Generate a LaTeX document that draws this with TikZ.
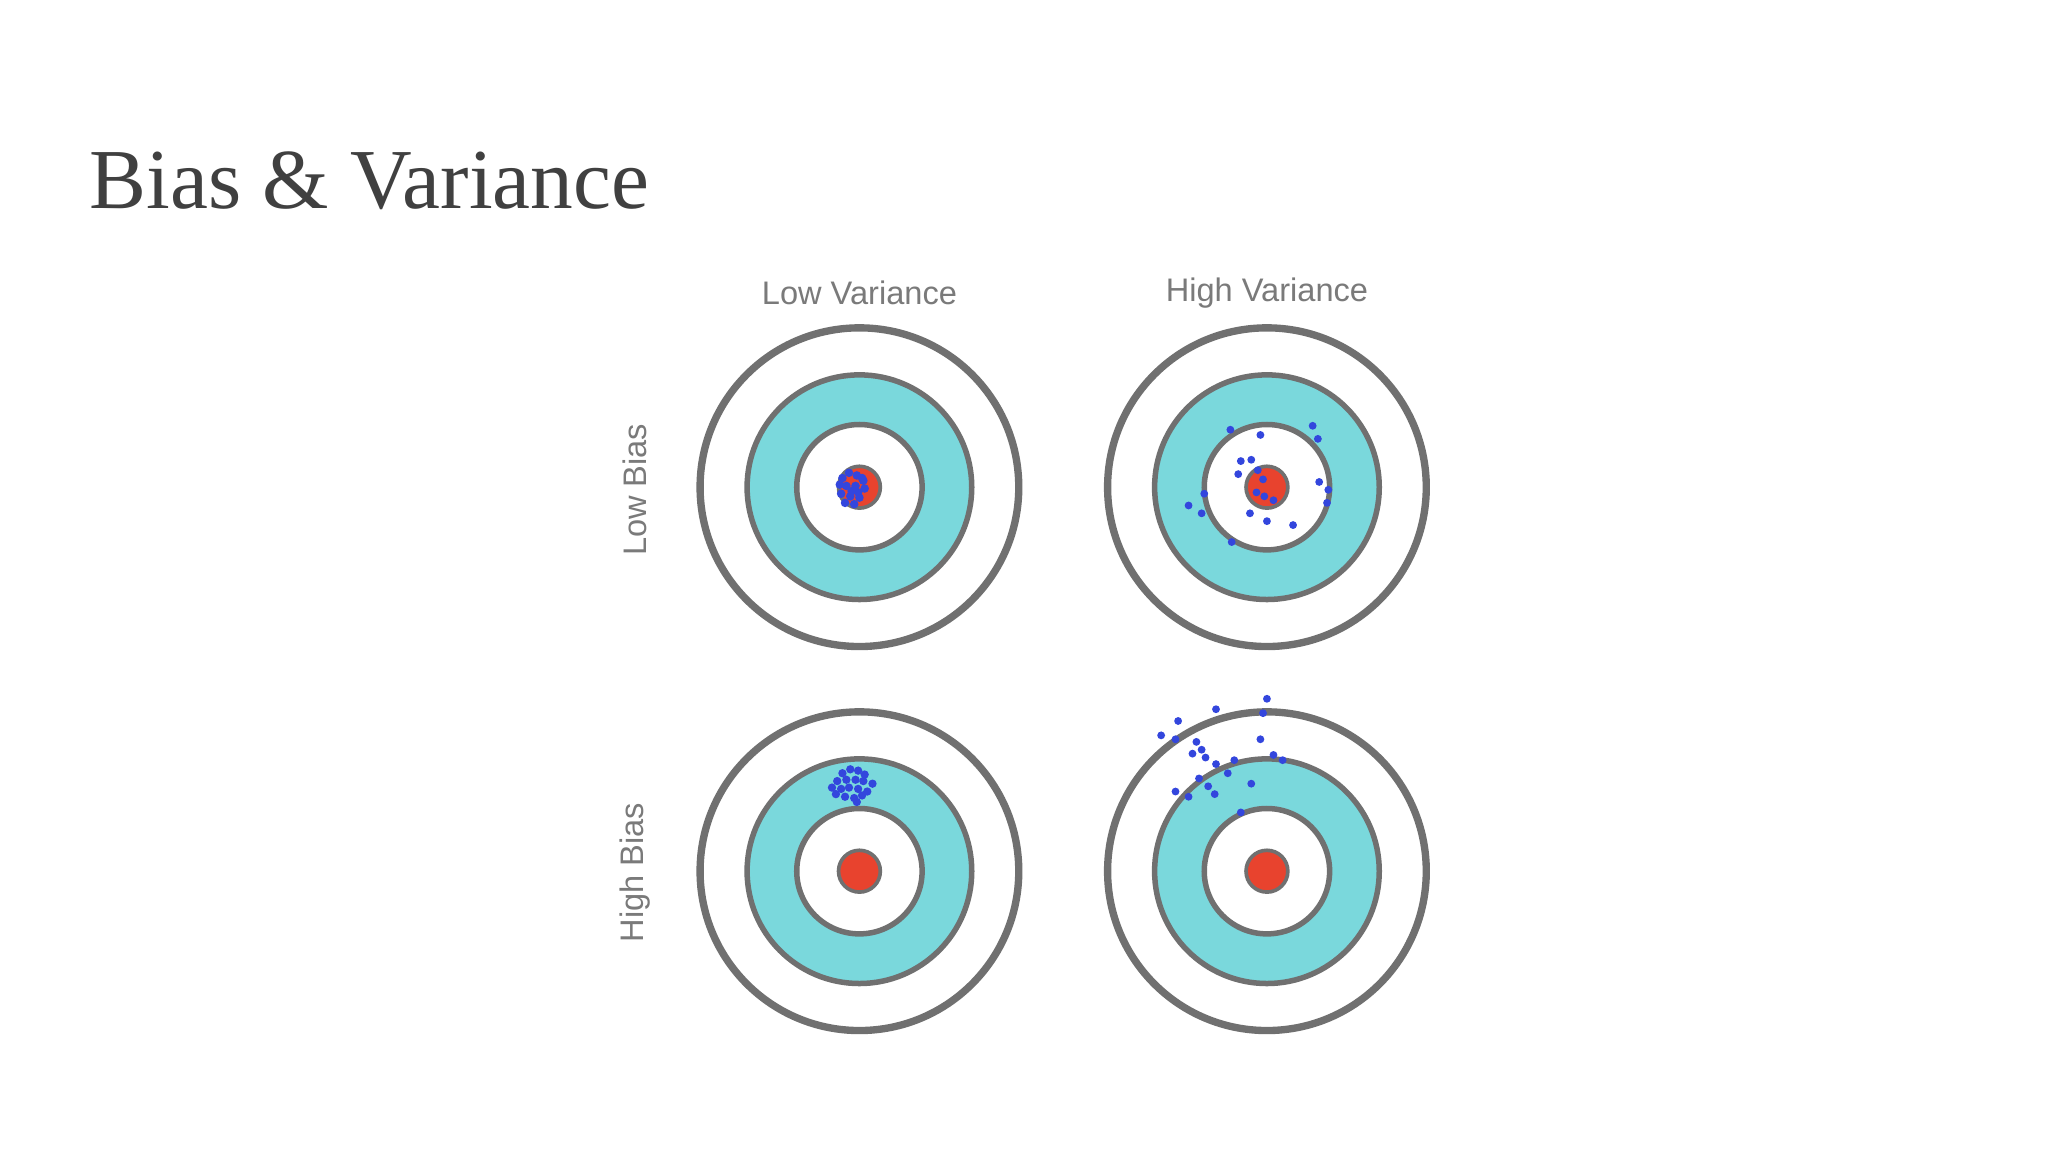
\documentclass[tikz,border=0pt]{standalone}
\usepackage{fontspec}
\setmainfont{Liberation Serif}
\newfontfamily\lsans{Liberation Sans}
\definecolor{teal1}{HTML}{7AD8DC}
\definecolor{ringc}{HTML}{707070}
\definecolor{redc}{HTML}{E8432E}
\definecolor{bluec}{HTML}{3346DD}
\definecolor{labc}{HTML}{7A7A7A}
\begin{document}
\begin{tikzpicture}[x=0.1mm,y=-0.1mm,
  lab/.style={font=\lsans\fontsize{7.1pt}{8pt}\selectfont,text=labc,inner sep=0},
  dot/.style={fill=bluec,draw=none}]
\useasboundingbox (0,0) rectangle (1568,882);
\fill[white] (0,0) rectangle (1568,882);
\node[anchor=base west,inner sep=0,text=black!75,font=\fontsize{18.6pt}{20pt}\selectfont] (title) at (68,160) {Bias \& Variance};
\newcommand{\target}[2]{%
  \draw[ringc,line width=1.6pt] (#1,#2) circle (122);
  \draw[ringc,line width=1.2pt,fill=teal1] (#1,#2) circle (86);
  \draw[ringc,line width=1.2pt,fill=white] (#1,#2) circle (48);
  \draw[ringc,line width=0.8pt,fill=redc] (#1,#2) circle (16);}
\target{658}{373}\target{970}{373}\target{658}{667}\target{970}{667}
\node[lab] (lv) at (658,224) {Low Variance};
\node[lab] (hv) at (970,224) {High Variance};
\node[lab,rotate=90] (lb) at (486,375) {Low Bias};
\node[lab,rotate=90] (hb) at (486,668) {High Bias};
% low bias low variance cluster
\foreach \p in {(645,366),(650,362),(656,364),(661,368),(648,372),(655,372),(662,374),(644,378),(651,380),(658,381),(647,385),(654,386),(660,366),(652,376),(657,377),(643,371)}
  \fill[dot] \p circle (3.3);
% low bias high variance
\foreach \p in {(942,329),(965,333),(1005,326),(1009,336),(950,353),(958,352),(948,363),(963,360),(967,367),(1010,369),(1017,375),(1016,385),(922,378),(910,387),(920,393),(957,393),(970,399),(990,402),(943,415),(968,380),(975,383),(962,377)}
  \fill[dot] \p circle (3);
% high bias low variance
\foreach \p in {(645,592),(651,589),(657,590),(662,593),(641,598),(648,597),(655,597),(661,598),(668,600),(637,603),(644,604),(650,603),(657,604),(664,606),(647,610),(654,611),(660,609),(640,608),(656,614)}
  \fill[dot] \p circle (3.2);
% high bias high variance
\foreach \p in {(931,543),(970,535),(967,546),(902,552),(889,563),(900,566),(916,568),(920,574),(913,577),(923,580),(931,585),(945,582),(965,566),(975,578),(982,582),(918,596),(900,606),(910,610),(925,602),(930,608),(958,600),(950,622),(940,592)}
  \fill[dot] \p circle (3);
\end{tikzpicture}
\end{document}
